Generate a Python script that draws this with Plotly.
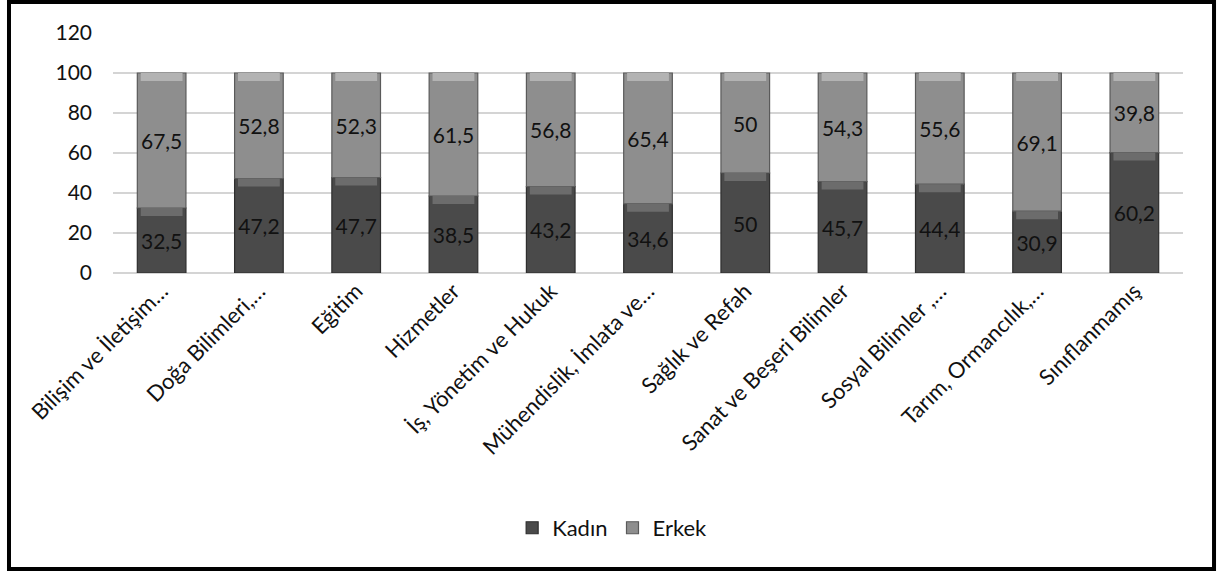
import plotly.graph_objects as go

# Alanlara göre kadın / erkek oranları (%)
alanlar = [
    "Bilişim ve İletişim…",
    "Doğa Bilimleri,…",
    "Eğitim",
    "Hizmetler",
    "İş, Yönetim ve Hukuk",
    "Mühendislik, İmlata ve…",
    "Sağlık ve Refah",
    "Sanat ve Beşeri Bilimler",
    "Sosyal Bilimler ,…",
    "Tarım, Ormancılık,…",
    "Sınıflanmamış",
]
kadin = [32.5, 47.2, 47.7, 38.5, 43.2, 34.6, 50, 45.7, 44.4, 30.9, 60.2]
erkek = [67.5, 52.8, 52.3, 61.5, 56.8, 65.4, 50, 54.3, 55.6, 69.1, 39.8]
y_ticks = [0, 20, 40, 60, 80, 100, 120]

FONT = "Lato"
BAR_W = 0.5
BEVEL = 4  # height of the light top edge of each segment, in axis units


def etiket(v):
    return f"{v:g}".replace(".", ",")


fig = go.Figure()

# Main segments, drawn with explicit bases so the bevel bands can overlay them
fig.add_trace(go.Bar(
    name="Kadın", x=alanlar, y=kadin, base=[0] * len(kadin), width=BAR_W,
    marker=dict(color="#4a4a4a", line=dict(color="#2e2e2e", width=1.2)),
    text=[etiket(v) for v in kadin], textposition="inside",
    insidetextanchor="middle", textangle=0, constraintext="none",
    textfont=dict(family=FONT, size=21, color="#111111"),
))
top_k = kadin
fig.add_trace(go.Bar(
    name="Erkek", x=alanlar, y=erkek, base=top_k, width=BAR_W,
    marker=dict(color="#8e8e8e", line=dict(color="#5a5a5a", width=1.2)),
    text=[etiket(v) for v in erkek], textposition="inside",
    insidetextanchor="middle", textangle=0, constraintext="none",
    textfont=dict(family=FONT, size=21, color="#111111"),
))

# Lighter bevel bands along the top of each segment
top_e = [k + e for k, e in zip(kadin, erkek)]
fig.add_trace(go.Bar(
    x=alanlar, y=[BEVEL] * len(kadin), base=[t - BEVEL for t in top_k],
    width=BAR_W * 0.86, showlegend=False, hoverinfo="skip",
    marker=dict(color="#6c6c6c", line=dict(width=0)),
))
fig.add_trace(go.Bar(
    x=alanlar, y=[BEVEL] * len(erkek), base=[t - BEVEL for t in top_e],
    width=BAR_W * 0.86, showlegend=False, hoverinfo="skip",
    marker=dict(color="#b3b3b3", line=dict(width=0)),
))

fig.update_layout(
    barmode="overlay",
    width=1217, height=572,
    margin=dict(l=113, r=34, t=33, b=299),
    paper_bgcolor="white", plot_bgcolor="white",
    font=dict(family=FONT, color="#111111"),
    showlegend=True,
    legend=dict(
        orientation="h", xref="container", yref="container",
        x=0.503, xanchor="center", y=0.077, yanchor="middle",
        font=dict(family=FONT, size=22, color="#111111"),
        traceorder="normal", itemwidth=30,
    ),
    shapes=[dict(
        type="rect", xref="paper", yref="paper",
        x0=-0.0972, x1=1.029, y0=-1.233, y1=1.129,
        line=dict(color="black", width=4), fillcolor="rgba(0,0,0,0)",
        layer="above",
    )],
)

fig.update_xaxes(
    type="category", tickangle=-45, showgrid=False,
    showline=False, ticks="",
    tickfont=dict(family=FONT, size=22, color="#111111"),
)
fig.update_yaxes(
    range=[0, 120], tickvals=y_ticks, showgrid=True,
    gridcolor="#d4d4d4", gridwidth=2, zeroline=True,
    zerolinecolor="#d4d4d4", zerolinewidth=2, showline=False,
    ticks="", ticklabelstandoff=20,
    tickfont=dict(family=FONT, size=21, color="#111111"),
)

fig.write_html("out.html")
